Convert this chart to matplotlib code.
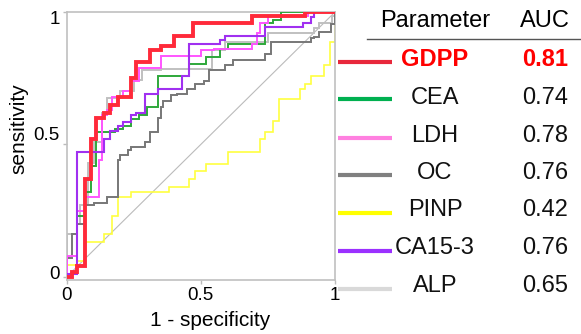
import matplotlib
matplotlib.use("Agg")
import matplotlib.pyplot as plt
from matplotlib.lines import Line2D
from matplotlib.transforms import ScaledTranslation

plt.rcParams["font.family"] = ["Liberation Sans", "DejaVu Sans"]

# ROC curves: each point (fpr, tpr) is the top of a vertical step at that fpr
gdpp_fpr = [0, 0, 0.02, 0.04, 0.07, 0.09, 0.11, 0.14, 0.16, 0.19, 0.24, 0.26, 0.31, 0.35, 0.40, 0.47, 0.69, 0.89, 1.0]
gdpp_tpr = [0, 0, 0.02, 0.04, 0.37, 0.52, 0.60, 0.62, 0.65, 0.68, 0.75, 0.81, 0.855, 0.87, 0.91, 0.957, 0.985, 1.0, 1.0]

cea_fpr = [0, 0.02, 0.04, 0.07, 0.09, 0.11, 0.18, 0.21, 0.24, 0.27, 0.30, 0.34, 0.455, 0.52, 0.57, 0.60, 0.74, 0.77, 0.80, 1.0]
cea_tpr = [0, 0.02, 0.23, 0.32, 0.42, 0.545, 0.56, 0.57, 0.595, 0.61, 0.64, 0.76, 0.805, 0.83, 0.86, 0.88, 0.957, 0.97, 1.0, 1.0]

ldh_fpr = [0, 0, 0.04, 0.07, 0.12, 0.13, 0.15, 0.17, 0.21, 0.24, 0.27, 0.35, 0.50, 0.55, 0.69, 0.71, 0.72, 0.75, 0.90, 1.0]
ldh_tpr = [0, 0.08, 0.25, 0.30, 0.44, 0.61, 0.63, 0.68, 0.70, 0.74, 0.79, 0.835, 0.855, 0.86, 0.88, 0.92, 0.957, 0.985, 1.0, 1.0]

oc_fpr = [0, 0, 0.02, 0.04, 0.07, 0.10, 0.15, 0.19, 0.20, 0.23, 0.24, 0.29, 0.31, 0.34, 0.35, 0.36, 0.39, 0.41, 0.45, 0.48, 0.51, 0.53, 0.59, 0.62, 0.74, 0.76, 0.91, 0.92, 0.94, 0.985, 1.0]
oc_tpr = [0, 0.07, 0.16, 0.20, 0.27, 0.28, 0.30, 0.44, 0.46, 0.48, 0.49, 0.51, 0.545, 0.60, 0.64, 0.665, 0.685, 0.69, 0.71, 0.73, 0.74, 0.78, 0.80, 0.82, 0.84, 0.887, 0.90, 0.905, 0.925, 0.955, 1.0]

pinp_fpr = [0, 0, 0.04, 0.07, 0.14, 0.17, 0.19, 0.24, 0.38, 0.455, 0.48, 0.52, 0.60, 0.72, 0.74, 0.77, 0.79, 0.87, 0.89, 0.91, 0.96, 0.98, 1.0]
pinp_tpr = [0, 0.044, 0.06, 0.133, 0.16, 0.23, 0.30, 0.32, 0.34, 0.37, 0.40, 0.425, 0.47, 0.52, 0.545, 0.59, 0.67, 0.71, 0.73, 0.76, 0.80, 0.887, 1.0]

ca153_fpr = [0, 0, 0.04, 0.14, 0.16, 0.19, 0.21, 0.24, 0.26, 0.29, 0.34, 0.43, 0.455, 0.57, 0.59, 0.74, 0.88, 0.91, 0.92, 1.0]
ca153_tpr = [0, 0.01, 0.47, 0.52, 0.55, 0.57, 0.585, 0.61, 0.62, 0.69, 0.71, 0.76, 0.88, 0.894, 0.91, 0.944, 0.96, 0.98, 1.0, 1.0]

alp_fpr = [0, 0, 0.04, 0.05, 0.08, 0.10, 0.13, 0.15, 0.20, 0.25, 0.28, 0.35, 0.54, 0.59, 0.75, 0.92, 0.94, 0.99, 1.0]
alp_tpr = [0, 0.16, 0.20, 0.27, 0.43, 0.51, 0.62, 0.675, 0.70, 0.745, 0.78, 0.785, 0.855, 0.885, 0.92, 0.94, 0.96, 0.985, 1.0]

names = ["GDPP", "CEA", "LDH", "OC", "PINP", "CA15-3", "ALP"]
auc = [0.81, 0.74, 0.78, 0.76, 0.42, 0.76, 0.65]

curves = {
    "GDPP": (gdpp_fpr, gdpp_tpr),
    "CEA": (cea_fpr, cea_tpr),
    "LDH": (ldh_fpr, ldh_tpr),
    "OC": (oc_fpr, oc_tpr),
    "PINP": (pinp_fpr, pinp_tpr),
    "CA15-3": (ca153_fpr, ca153_tpr),
    "ALP": (alp_fpr, alp_tpr),
}

# plot colour, legend swatch colour, plot linewidth
styles = {
    "GDPP": ("#FF2A3A", "#E8283C", 2.8),
    "CEA": ("#2EA83A", "#00B050", 1.4),
    "LDH": ("#FF55FF", "#FF80E0", 1.4),
    "OC": ("#777777", "#808080", 1.4),
    "PINP": ("#FFFF40", "#FFFF00", 1.2),
    "CA15-3": ("#A030F0", "#9B30FF", 1.5),
    "ALP": ("#C0C0C0", "#D9D9D9", 1.4),
}
draw_order = ["PINP", "ALP", "OC", "CEA", "LDH", "CA15-3", "GDPP"]

W, H = 581, 334
fig = plt.figure(figsize=(W / 100, H / 100), dpi=100)


def fx(px):
    return px / W


def fy(py):
    return 1 - py / H


ax = fig.add_axes([fx(66.7), fy(280), fx(335) - fx(66.7), fy(12) - fy(280)])
ax.plot([0, 1], [0, 1], color="#BBBBBB", linewidth=0.8, zorder=1)
for i, name in enumerate(draw_order):
    x, y = curves[name]
    c, _, lw = styles[name]
    ax.step(x, y, where="post", color=c, linewidth=lw, zorder=2 + i,
            solid_joinstyle="miter")

ax.set_xlim(0, 1)
ax.set_ylim(-0.012, 1)
ax.set_xticks([0, 0.5, 1])
ax.set_xticklabels(["0", "0.5", "1"])
ax.set_yticks([0, 0.5, 1])
ax.set_yticklabels(["0", "0.5", "1"])
ax.tick_params(direction="out", length=3, width=1, color="#BBBBBB",
               labelsize=13.5, pad=2)
for s in ax.spines.values():
    s.set_color("#C0C0C0")
    s.set_linewidth(1.2)

# y tick labels in the reference sit a little off their ticks
for lab, dy in zip(ax.get_yticklabels(), [4, 11, -6]):
    lab.set_transform(lab.get_transform() + ScaledTranslation(0, dy / 100, fig.dpi_scale_trans))

fig.text(fx(210), fy(320), "1 - specificity", fontsize=15, ha="center", va="center")
fig.text(fx(19), fy(129), "sensitivity", fontsize=15, ha="center", va="center",
         rotation=90)

# parameter / AUC table on the right
name_x, auc_x = 435, 545
fig.text(fx(name_x), fy(21), "Parameter", fontsize=17, ha="center", va="center")
fig.text(fx(auc_x), fy(21), "AUC", fontsize=17, ha="center", va="center")
fig.add_artist(Line2D([fx(367), fx(581)], [fy(39), fy(39)], color="#555555",
                      linewidth=1.0, transform=fig.transFigure))

row_y = [59.5, 97.5, 136, 173, 210.5, 248.5, 286.5]
for name, val, ry in zip(names, auc, row_y):
    _, sw, _ = styles[name]
    fig.add_artist(Line2D([fx(338), fx(392)], [fy(ry + 2), fy(ry + 2)], color=sw,
                          linewidth=3, solid_capstyle="butt",
                          transform=fig.transFigure))
    if name == "GDPP":
        kw = dict(color="#FF0000", fontweight="bold")
    else:
        kw = dict(color="#111111")
    fig.text(fx(name_x), fy(ry), name, fontsize=17, ha="center", va="center", **kw)
    fig.text(fx(auc_x), fy(ry), f"{val:.2f}", fontsize=17, ha="center", va="center", **kw)

fig.savefig("out.png", dpi=100)
